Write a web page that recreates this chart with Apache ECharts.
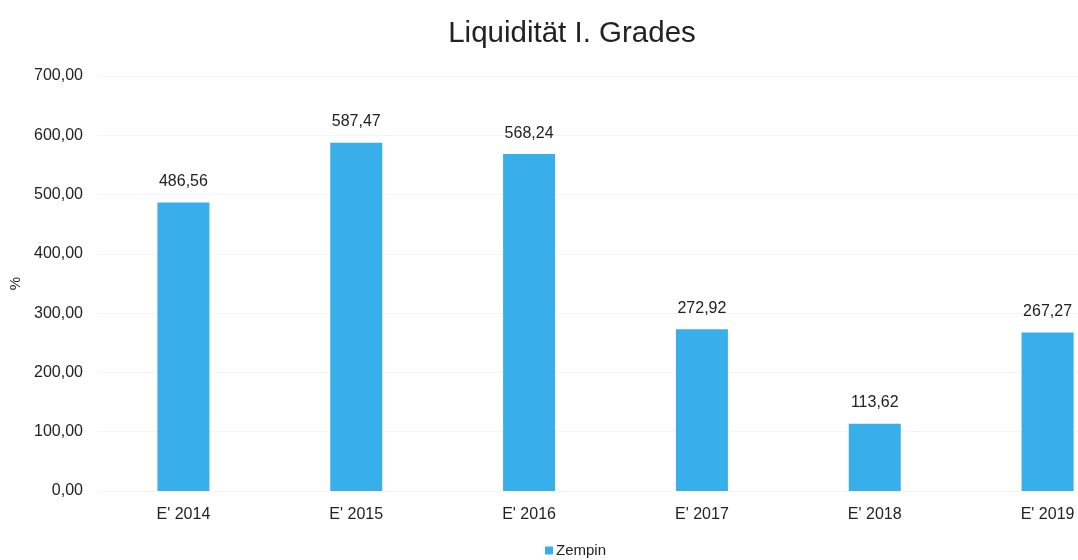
<!DOCTYPE html>
<html>
<head>
<meta charset="utf-8">
<script src="https://cdn.jsdelivr.net/npm/echarts@6/dist/echarts.min.js"></script>
<style>
  html, body { margin: 0; padding: 0; background: #fff; }
  #main { width: 1078px; height: 560px; }
</style>
</head>
<body>
<div id="main"></div>
<script>
var categories = ["E' 2014", "E' 2015", "E' 2016", "E' 2017", "E' 2018", "E' 2019"];
var values = [486.56, 587.47, 568.24, 272.92, 113.62, 267.27];
var seriesName = 'Zempin';

// Zahl mit Komma als Dezimaltrenner
function fmt(v) {
  return Number(v).toFixed(2).replace('.', ',');
}

var chart = echarts.init(document.getElementById('main'));
var opt = {
  animation: false,
  textStyle: { fontFamily: 'Liberation Sans, Arial, sans-serif' },
  title: {
    text: 'Liquidität I. Grades',
    left: 567,
    textAlign: 'center',
    top: 14,
    textStyle: { fontSize: 29.5, fontWeight: 'normal', color: '#222' }
  },
  legend: {
    bottom: -3,
    left: 540,
    itemWidth: 8,
    itemHeight: 8,
    itemGap: 4,
    icon: 'rect',
    textStyle: { fontSize: 15, color: '#222', padding: [0, 0, 0, -2] },
    data: [seriesName]
  },
  grid: {
    left: 97,
    top: 76,
    bottom: 69,
    right: -56,
    outerBoundsMode: 'none',
    containLabel: false
  },
  xAxis: {
    type: 'category',
    data: categories,
    axisTick: { show: false },
    axisLine: { show: false },
    axisLabel: { margin: 16, fontSize: 16, color: '#222' }
  },
  yAxis: {
    type: 'value',
    min: 0,
    max: 700,
    interval: 100,
    name: '%',
    nameLocation: 'middle',
    nameGap: 74,
    nameTextStyle: { fontSize: 15, color: '#222' },
    axisLabel: {
      margin: 14,
      fontSize: 16,
      color: '#222',
      formatter: fmt
    },
    splitLine: { lineStyle: { color: '#f5f5f5' } }
  },
  series: [{
    name: seriesName,
    type: 'bar',
    barWidth: 52,
    data: values,
    itemStyle: { color: '#38aeea' },
    label: {
      show: true,
      position: 'top',
      distance: 13,
      fontSize: 16,
      color: '#222',
      formatter: function (p) { return fmt(p.value); }
    }
  }]
};
chart.setOption(opt);
</script>
</body>
</html>
